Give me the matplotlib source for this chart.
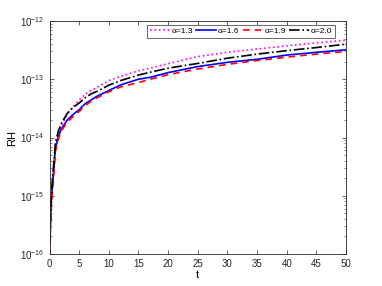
import numpy as np
import matplotlib
matplotlib.use("Agg")
import matplotlib.pyplot as plt

t = [0.05, 0.25, 0.5, 1, 1.5, 2, 3, 4, 5, 6, 7, 8, 10, 12, 15, 17, 20, 25, 30, 35, 40, 45, 50]
rh_13 = [1.3e-16, 6e-16, 1.6e-15, 7.2e-15, 1.15e-14, 1.6e-14, 2.5e-14, 3.4e-14, 4.4e-14, 5.5e-14, 6.4e-14, 7.2e-14, 9.5e-14, 1.12e-13, 1.4e-13, 1.55e-13, 1.85e-13, 2.45e-13, 2.9e-13, 3.3e-13, 3.75e-13, 4.2e-13, 4.7e-13]
rh_16 = [1.5e-16, 7e-16, 1.5e-15, 6.5e-15, 1.05e-14, 1.4e-14, 2.0e-14, 2.5e-14, 3.0e-14, 3.8e-14, 4.4e-14, 5.1e-14, 6.4e-14, 8.0e-14, 1.0e-13, 1.08e-13, 1.3e-13, 1.65e-13, 1.95e-13, 2.2e-13, 2.6e-13, 2.9e-13, 3.2e-13]
rh_19 = [1.4e-16, 5e-16, 1.2e-15, 5.8e-15, 9.5e-15, 1.3e-14, 1.85e-14, 2.3e-14, 2.8e-14, 3.5e-14, 4.2e-14, 4.8e-14, 6.1e-14, 7.4e-14, 8.8e-14, 1.0e-13, 1.2e-13, 1.5e-13, 1.8e-13, 2.1e-13, 2.4e-13, 2.7e-13, 3.0e-13]
rh_20 = [1.6e-16, 8e-16, 1.9e-15, 8.2e-15, 1.3e-14, 1.75e-14, 2.6e-14, 3.3e-14, 3.9e-14, 4.8e-14, 5.6e-14, 6.2e-14, 7.9e-14, 9.5e-14, 1.18e-13, 1.32e-13, 1.55e-13, 1.87e-13, 2.3e-13, 2.7e-13, 3.1e-13, 3.5e-13, 4.0e-13]
labels = ["\u03b1=1.3", "\u03b1=1.6", "\u03b1=1.9", "\u03b1=2.0"]

plt.rcParams['font.family'] = ['Liberation Sans', 'DejaVu Sans']
fig = plt.figure(figsize=(3.82, 2.86), dpi=100)
L, R, T, B = 49.5, 346, 21, 254
ax = fig.add_axes([L/382, 1-B/286, (R-L)/382, (B-T)/286])

ax.plot(t, rh_13, color='#ff00ff', linestyle=':', linewidth=1.2, label=labels[0])
ax.plot(t, rh_16, color='#0000ff', linestyle='-', linewidth=1.2, label=labels[1])
ax.plot(t, rh_19, color='#ff0000', linestyle=(0, (4, 3)), linewidth=1.2, label=labels[2])
ax.plot(t, rh_20, color='k', linestyle='-.', linewidth=1.2, label=labels[3])

ax.set_yscale('log')
ax.set_xlim(0, 50)
ax.set_ylim(1e-16, 1e-12)
ax.set_xticks(np.arange(0, 51, 5))
ax.set_yticks([1e-16, 1e-15, 1e-14, 1e-13, 1e-12])
ax.yaxis.set_minor_locator(matplotlib.ticker.LogLocator(base=10, subs=np.arange(2, 10)))
ax.yaxis.set_minor_formatter(matplotlib.ticker.NullFormatter())
ax.tick_params(which='major', direction='in', top=True, right=True, labelsize=7, length=3, width=0.5, colors='#262626')
ax.tick_params(which='minor', direction='in', top=True, right=True, length=1.6, width=0.4, colors='#262626')
for s in ax.spines.values():
    s.set_linewidth(0.6)
    s.set_color('#262626')
ax.set_xlabel('t', fontsize=8, labelpad=1)
ax.set_ylabel('RH', fontsize=8, labelpad=2)

leg = ax.legend(ncol=4, loc='upper right',
                bbox_to_anchor=((335-L)/(R-L), (B-25)/(B-T)), borderaxespad=0,
                fontsize=6, frameon=True, fancybox=False,
                edgecolor='#262626', handlelength=2.4, handletextpad=0.2, columnspacing=0.4,
                borderpad=0.3)
leg.get_frame().set_linewidth(0.6)

fig.savefig('out.png', dpi=100)
